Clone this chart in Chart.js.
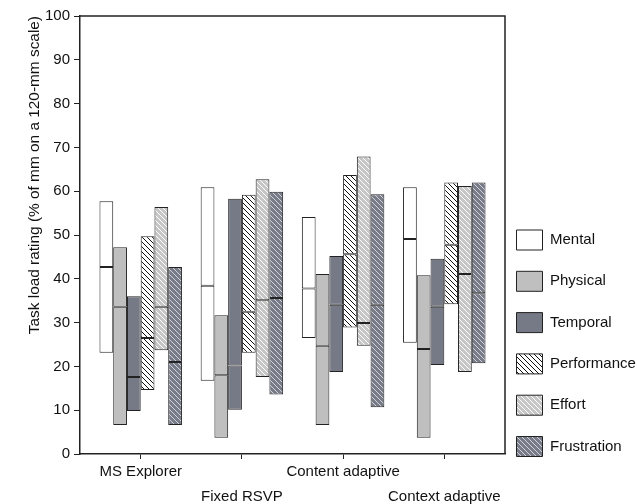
<!DOCTYPE html>
<html>
<head>
<meta charset="utf-8">
<script src="https://cdn.jsdelivr.net/npm/chart.js@4.4.1/dist/chart.umd.min.js"></script>
<style>
  html, body { margin: 0; padding: 0; background: #fff; }
  #wrap { width: 637px; height: 504px; }
</style>
</head>
<body>
<div id="wrap"><canvas id="taskChart" width="637" height="504"></canvas></div>
<script>
const categories = ['MS Explorer', 'Fixed RSVP', 'Content adaptive', 'Context adaptive'];
const seriesNames = ['Mental', 'Physical', 'Temporal', 'Performance', 'Effort', 'Frustration'];

// one row per series, one column per category
const lowValues = [
  [23.1, 16.7, 26.5, 25.4],
  [6.6, 3.7, 6.6, 3.7],
  [9.8, 10.1, 18.7, 20.3],
  [14.6, 23.1, 28.9, 34.2],
  [23.7, 17.6, 24.7, 18.7],
  [6.6, 13.6, 10.7, 20.7]
];
const medianValues = [
  [42.7, 38.4, 37.8, 49.1],
  [33.6, 18.0, 24.7, 24.0],
  [17.6, 20.2, 34.1, 33.6],
  [26.5, 32.5, 45.6, 47.8],
  [33.6, 35.1, 29.9, 41.1],
  [21.0, 35.6, 34.1, 36.7]
];
const highValues = [
  [57.7, 60.9, 54.1, 60.9],
  [47.2, 31.7, 41.1, 40.8],
  [36.0, 58.3, 45.2, 44.6],
  [49.7, 59.2, 63.7, 62.0],
  [56.4, 62.7, 67.9, 61.2],
  [42.7, 59.9, 59.3, 62.0]
];
const yTicks = [0, 10, 20, 30, 40, 50, 60, 70, 80, 90, 100];

Chart.defaults.font.family = '"Liberation Sans", Arial, sans-serif';
Chart.defaults.color = '#111';

// diagonal hatch fill
function hatch(bg, line) {
  const size = 5;
  const c = document.createElement('canvas');
  c.width = size;
  c.height = size;
  const g = c.getContext('2d');
  g.fillStyle = bg;
  g.fillRect(0, 0, size, size);
  g.strokeStyle = line;
  g.lineWidth = 1;
  g.beginPath();
  for (const k of [-size, 0, size]) {
    g.moveTo(k, 0);
    g.lineTo(k + size, size);
  }
  g.stroke();
  return g.createPattern(c, 'repeat');
}

const fills = [
  '#ffffff',
  '#bfbfbf',
  '#767986',
  hatch('#ffffff', '#111111'),
  hatch('#c6c6c6', '#ffffff'),
  hatch('#787b88', '#d2d3da')
];

// each series = lower part (low..median) + upper part (median..high) in one stack
const datasets = [];
seriesNames.forEach((name, s) => {
  datasets.push({
    label: name,
    part: 'lower',
    stack: name,
    backgroundColor: fills[s],
    data: categories.map((_, i) => ({ x: i, y: [lowValues[s][i], medianValues[s][i]] }))
  });
  datasets.push({
    label: name,
    part: 'upper',
    stack: name,
    backgroundColor: fills[s],
    data: categories.map((_, i) => ({ x: i, y: [medianValues[s][i], highValues[s][i]] }))
  });
});

const framePlugin = {
  id: 'frame',
  afterDatasetsDraw(chart) {
    const { ctx, chartArea: a } = chart;
    ctx.save();
    ctx.strokeStyle = '#222';
    ctx.lineWidth = 1.5;
    ctx.beginPath();
    ctx.moveTo(a.left, a.top);
    ctx.lineTo(a.right, a.top);
    ctx.lineTo(a.right, a.bottom);
    ctx.stroke();
    ctx.restore();
  }
};

// move the legend column next to the plot frame
const legendPlacer = {
  id: 'legendPlacer',
  afterLayout(chart) {
    const lg = chart.legend;
    const pad = lg.options.labels.padding;
    const dx = (chart.chartArea.right + 11.5) - (lg.left + pad);
    const firstTop = (lg.top + pad + lg.bottom - lg.columnSizes[0].height) / 2;
    const dy = 230 - firstTop;
    lg.left += dx;
    lg.right = chart.width;
    lg.top += dy; lg.bottom += dy;
  }
};

const ctx = document.getElementById('taskChart').getContext('2d');
new Chart(ctx, {
  type: 'bar',
  data: { datasets: datasets },
  plugins: [framePlugin, legendPlacer],
  options: {
    responsive: false,
    animation: false,
    devicePixelRatio: 1,
    layout: { padding: { top: 16, left: 0, right: 0, bottom: 0 } },
    datasets: {
      bar: {
        categoryPercentage: 0.815,
        barPercentage: 1,
        borderWidth: 1,
        borderColor: '#222',
        borderSkipped: false
      }
    },
    plugins: {
      tooltip: { enabled: false },
      legend: {
        position: 'right',
        align: 'center',
        maxWidth: 132,
        labels: {
          boxWidth: 26,
          boxHeight: 20,
          padding: 21.3,
          color: '#111',
          font: { size: 15 },
          filter: (item, data) => data.datasets[item.datasetIndex].part === 'lower'
        }
      }
    },
    scales: {
      x: {
        type: 'linear',
        min: -0.6,
        max: 3.6,
        offset: false,
        stacked: true,
        afterBuildTicks: s => { s.ticks = categories.map((_, i) => ({ value: i })); },
        afterFit: s => { s.height = 50; },
        ticks: {
          autoSkip: false,
          maxRotation: 0,
          padding: 0,
          color: '#111',
          font: { size: 15, lineHeight: 25 / 15 },
          callback: (value) => value % 2 === 0 ? [categories[value], ''] : ['', categories[value]]
        },
        grid: { offset: false, drawOnChartArea: false, drawTicks: true, tickLength: 5, color: '#222' },
        border: { color: '#222', width: 1.5 }
      },
      y: {
        min: 0,
        max: 100,
        stacked: false,
        afterBuildTicks: s => { s.ticks = yTicks.map(v => ({ value: v })); },
        afterFit: s => { s.width = 80; },
        ticks: { padding: 4, color: '#111', font: { size: 15 } },
        grid: { drawOnChartArea: false, drawTicks: true, tickLength: 6, color: '#222' },
        border: { color: '#222', width: 1.5 },
        title: {
          display: true,
          text: 'Task load rating (% of mm on a 120-mm scale)',
          align: 'end',
          color: '#111',
          font: { size: 15.4 },
          padding: { top: 26, bottom: 0 }
        }
      }
    }
  }
});
</script>
</body>
</html>
